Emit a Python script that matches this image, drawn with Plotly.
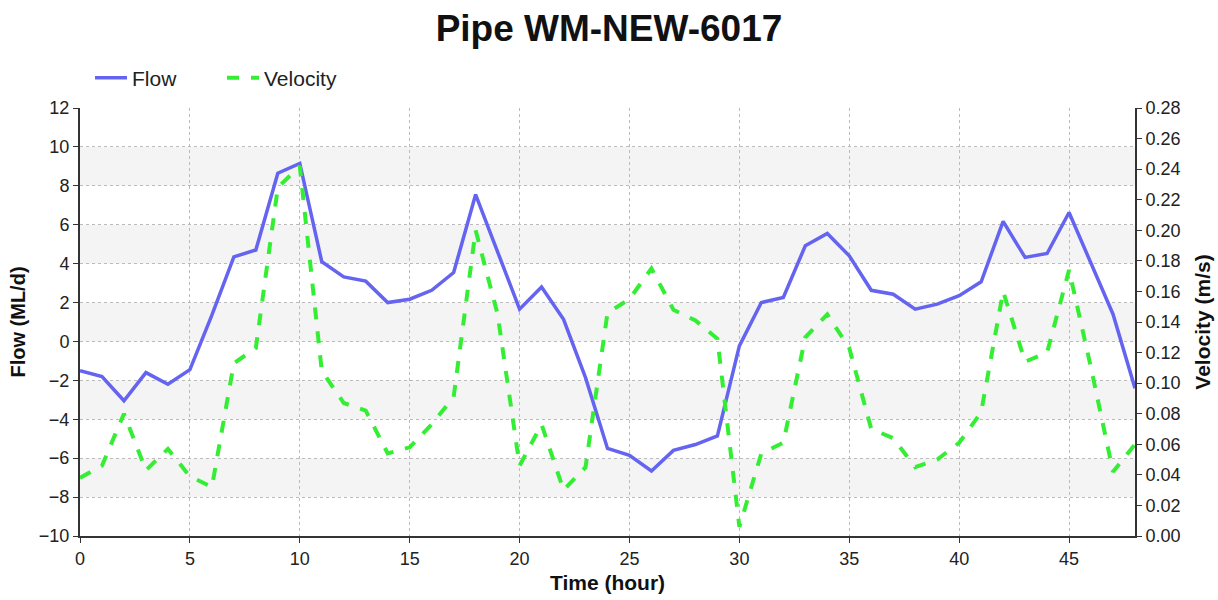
import plotly.graph_objects as go

hours = list(range(0, 49))
flow = [-1.5, -1.8, -3.05, -1.6, -2.2, -1.45, 1.35, 4.35, 4.7, 8.65, 9.15, 4.1, 3.32,
        3.1, 2.0, 2.17, 2.63, 3.54, 7.55, 4.66, 1.66, 2.8, 1.14, -1.86, -5.5, -5.85,
        -6.66, -5.6, -5.3, -4.86, -0.23, 2.0, 2.26, 4.92, 5.55, 4.4, 2.63, 2.43, 1.66,
        1.92, 2.35, 3.07, 6.17, 4.32, 4.52, 6.63, 4.06, 1.4, -2.4]
velocity = [0.038, 0.046, 0.080, 0.043, 0.057, 0.039, 0.032, 0.113, 0.123, 0.228, 0.242,
            0.108, 0.087, 0.082, 0.054, 0.058, 0.073, 0.091, 0.200, 0.145, 0.046, 0.073,
            0.030, 0.045, 0.146, 0.155, 0.175, 0.148, 0.141, 0.129, 0.006, 0.054, 0.061,
            0.130, 0.145, 0.123, 0.070, 0.064, 0.045, 0.050, 0.061, 0.081, 0.160, 0.114,
            0.120, 0.174, 0.110, 0.042, 0.060]

flow_ticks = list(range(-10, 13, 2))
vel_ticks = [round(i * 0.02, 2) for i in range(0, 15)]
time_ticks = list(range(0, 50, 5))

FONT = "Liberation Sans, Arial, sans-serif"

fig = go.Figure()
fig.add_trace(go.Scatter(x=hours, y=flow, name="Flow", mode="lines",
                         line=dict(color="#6464f0", width=3.5)))
fig.add_trace(go.Scatter(x=hours, y=velocity, name="Velocity", mode="lines", yaxis="y2",
                         line=dict(color="#33ee33", width=4, dash="dash")))

# alternating background bands
shapes = []
for i, lo in enumerate(flow_ticks[:-1]):
    if (len(flow_ticks) - 2 - i) % 2 == 1:
        shapes.append(dict(type="rect", xref="paper", yref="y", x0=0, x1=1,
                           y0=lo, y1=lo + 2, fillcolor="#f4f4f4", line_width=0,
                           layer="below"))

axis_common = dict(showline=True, linecolor="#333333", linewidth=2, ticks="outside",
                   ticklen=5, tickcolor="#333333", tickfont=dict(size=18, color="#222"),
                   zeroline=False, automargin=False)

fig.update_layout(
    width=1218, height=600,
    paper_bgcolor="white", plot_bgcolor="white",
    font=dict(family=FONT, color="#111"),
    margin=dict(l=80, r=83, t=108, b=64),
    title=dict(text="<b>Pipe WM-NEW-6017</b>", x=0.5, xanchor="center", y=0.953,
               yanchor="middle", font=dict(size=37, color="#111")),
    legend=dict(orientation="h", x=0.0095, y=1.022, xanchor="left", yanchor="bottom",
                font=dict(size=21, color="#222"), bgcolor="rgba(0,0,0,0)",
                itemwidth=32, entrywidth=85),
    shapes=shapes,
    xaxis=dict(range=[0, 48], tickvals=time_ticks, showgrid=True, gridcolor="#bbbbbb",
               griddash="dot", gridwidth=1,
               title=dict(text="<b>Time (hour)</b>", font=dict(size=21), standoff=8),
               **axis_common),
    yaxis=dict(range=[-10, 12], tickvals=flow_ticks, showgrid=True, gridcolor="#bbbbbb",
               griddash="dot", gridwidth=1,
               title=dict(text="<b>Flow (ML/d)</b>", font=dict(size=20), standoff=8),
               **axis_common),
    yaxis2=dict(range=[0, 0.28], tickvals=vel_ticks, tickformat=".2f", overlaying="y",
                side="right", showgrid=False,
                title=dict(text="<b>Velocity (m/s)</b>", font=dict(size=21), standoff=16),
                **axis_common),
)

fig.write_html("out.html")
